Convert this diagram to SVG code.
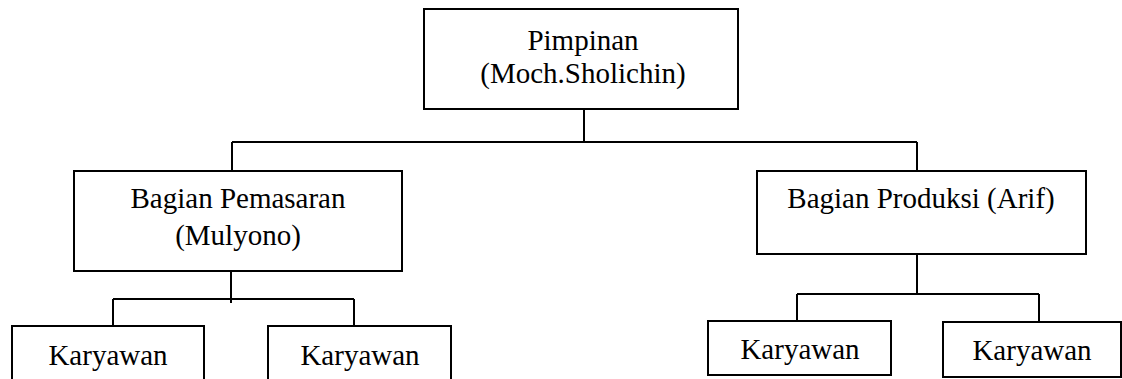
<svg xmlns="http://www.w3.org/2000/svg" width="1122" height="379" viewBox="0 0 1122 379">
  <style>
    .box { fill: #ffffff; stroke: #000000; stroke-width: 2; }
    .link { fill: none; stroke: #000000; stroke-width: 2; }
    .label { font-size: 29px; fill: #000000; text-anchor: middle; }
  </style>
  <rect width="1122" height="379" fill="#ffffff"/>

  <!-- connectors -->
  <g id="connectors">
    <path class="link" d="M584 104 V142 M232 142 H917 M232 142 V171 M917 142 V171"/>
    <path class="link" d="M231 267 V303 M113 299 H354 M113 299 V326 M354 299 V326"/>
    <path class="link" d="M917 249 V294 M797 294 H1039 M797 294 V327 M1039 294 V322"/>
  </g>

  <g font-family="'Liberation Serif', 'Times New Roman', Times, 'DejaVu Serif', serif">
    <g id="pimpinan">
      <rect class="box" x="424" y="9" width="314" height="100"/>
      <text class="label" x="583" y="50">Pimpinan</text>
      <text class="label" x="583" y="83">(Moch.Sholichin)</text>
    </g>

    <g id="bagian-pemasaran">
      <rect class="box" x="74" y="171" width="328" height="100"/>
      <text class="label" x="238" y="208">Bagian Pemasaran</text>
      <text class="label" x="238" y="245">(Mulyono)</text>
    </g>

    <g id="bagian-produksi">
      <rect class="box" x="757" y="171" width="329" height="83"/>
      <text class="label" x="921" y="208">Bagian Produksi (Arif)</text>
    </g>

    <g id="karyawan-1">
      <rect class="box" x="12" y="326" width="192" height="70"/>
      <text class="label" x="108" y="365">Karyawan</text>
    </g>

    <g id="karyawan-2">
      <rect class="box" x="268" y="326" width="183" height="70"/>
      <text class="label" x="360" y="365">Karyawan</text>
    </g>

    <g id="karyawan-3">
      <rect class="box" x="708" y="321" width="183" height="54"/>
      <text class="label" x="800" y="359">Karyawan</text>
    </g>

    <g id="karyawan-4">
      <rect class="box" x="943" y="322" width="178" height="55"/>
      <text class="label" x="1032" y="360">Karyawan</text>
    </g>
  </g>
</svg>
